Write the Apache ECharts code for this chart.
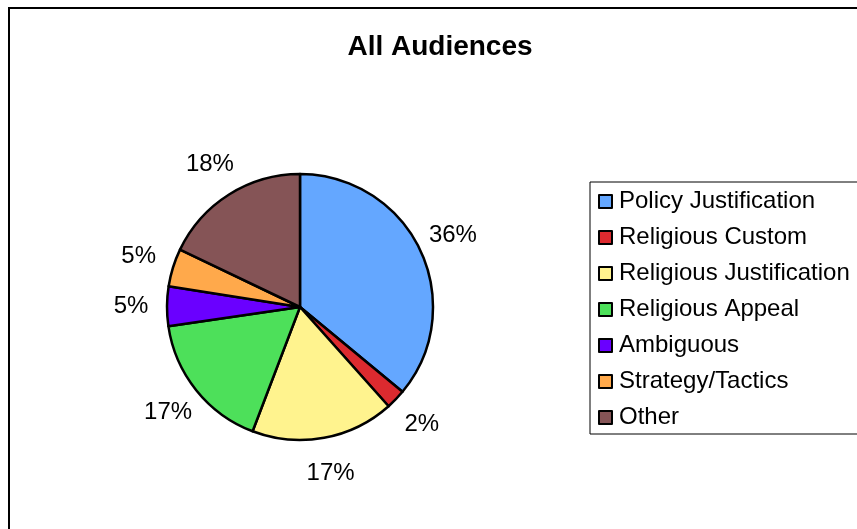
<!DOCTYPE html>
<html>
<head>
<meta charset="utf-8">
<title>All Audiences</title>
<script src="https://cdn.jsdelivr.net/npm/echarts@6/dist/echarts.min.js"></script>
<style>
  html, body { margin: 0; padding: 0; background: #fff; }
  #chart { width: 857px; height: 529px; }
</style>
</head>
<body>
<div id="chart"></div>
<script>
// categories and shares (percent)
var categories = ['Policy Justification', 'Religious Custom', 'Religious Justification',
  'Religious Appeal', 'Ambiguous', 'Strategy/Tactics', 'Other'];
var shares = [36, 2.4, 17.4, 16.9, 4.8, 4.6, 17.9];
var colors = ['#64A7FF', '#DC2A2F', '#FFF38E', '#4DE05A', '#6A00FF', '#FFA94B', '#855456'];

var pieData = categories.map(function (name, i) {
  return { name: name, value: shares[i], itemStyle: { color: colors[i] } };
});

var myChart = echarts.init(document.getElementById('chart'));
myChart.setOption({
  backgroundColor: '#fff',
  animation: false,
  textStyle: { fontFamily: 'Liberation Sans, Arial, sans-serif' },
  title: {
    text: 'All Audiences',
    left: 435,
    textAlign: 'center',
    top: 28,
    textStyle: { fontSize: 28, fontWeight: 'bold', color: '#000', fontFamily: 'Liberation Sans, Arial, sans-serif' }
  },
  graphic: [{
    type: 'rect',
    shape: { x: 9, y: 8, width: 900, height: 600 },
    style: { fill: 'none', stroke: '#000', lineWidth: 2 },
    silent: true
  }],
  legend: {
    orient: 'vertical',
    left: 590,
    top: 182,
    data: categories,
    icon: 'rect',
    itemWidth: 13,
    itemHeight: 13,
    itemGap: 9,
    padding: [6, 30, 3, 8],
    borderColor: '#000',
    borderWidth: 1,
    itemStyle: { borderWidth: 2 },
    textStyle: { fontSize: 24, lineHeight: 27, color: '#000', padding: [0, 0, 0, 2] }
  },
  series: [
    {
      name: 'slices',
      type: 'pie',
      center: [300, 307],
      radius: 133,
      startAngle: 90,
      clockwise: true,
      label: { show: false },
      labelLine: { show: false },
      itemStyle: { borderColor: '#000', borderWidth: 2.5 },
      emphasis: { scale: false },
      data: pieData
    },
    {
      // transparent ring that carries the percent labels
      name: 'labels',
      type: 'pie',
      center: [300, 307],
      radius: [150, 182],
      startAngle: 90,
      clockwise: true,
      silent: true,
      legendHoverLink: false,
      itemStyle: { color: 'rgba(0,0,0,0)', borderWidth: 0 },
      emphasis: { disabled: true },
      label: {
        show: true,
        position: 'inside',
        fontSize: 24,
        color: '#000',
        formatter: function (p) { return Math.round(p.value) + '%'; }
      },
      labelLine: { show: false },
      data: categories.map(function (name, i) { return { name: name, value: shares[i] }; })
    }
  ]
});
window.addEventListener('resize', function () { myChart.resize(); });
</script>
</body>
</html>
